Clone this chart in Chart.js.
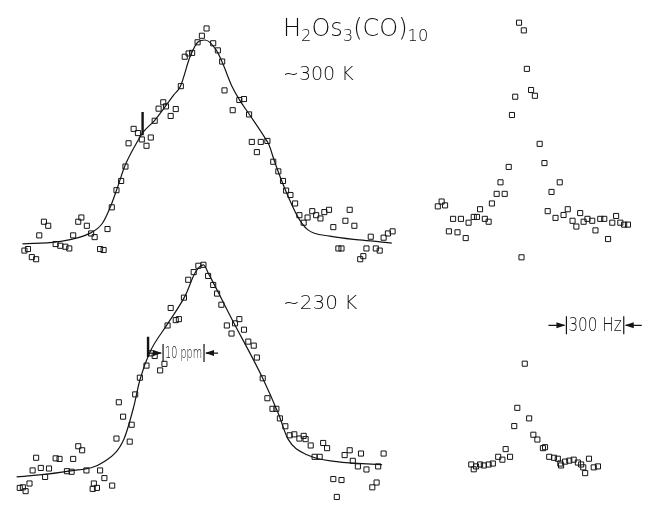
<!DOCTYPE html>
<html>
<head>
<meta charset="utf-8">
<script src="https://cdn.jsdelivr.net/npm/chart.js@4.4.1/dist/chart.umd.min.js"></script>
<style>
  body { margin: 0; background: #fff; width: 645px; height: 505px; position: relative; overflow: hidden; }
  canvas { position: absolute; }
  .lbl { position: absolute; font-family: 'DejaVu Sans', sans-serif; font-weight: 200; color: #111; white-space: nowrap; line-height: 1; }
  .lbl sub { font-size: 0.68em; vertical-align: -0.3em; }
</style>
</head>
<body>
<canvas id="c300" width="400" height="260" style="left:5px;top:10px"></canvas>
<canvas id="c230" width="400" height="250" style="left:5px;top:255px"></canvas>
<canvas id="h300" width="225" height="260" style="left:420px;top:10px"></canvas>
<canvas id="h230" width="225" height="250" style="left:420px;top:255px"></canvas>

<div class="lbl" style="left:283px;top:16px;font-size:24px">H<sub>2</sub>Os<sub>3</sub>(CO)<sub>10</sub></div>
<div class="lbl" style="left:283px;top:64px;font-size:19px">~300 K</div>
<div class="lbl" style="left:283px;top:292px;font-size:20px">~230 K</div>

<script>
// ~300 K, wide scan: shift offset (ppm) vs intensity (a.u.)
const ppm300 = [0.4, -0.8, -1.9, -3.3, -4.2, -5.2, -6.2, -10.7, -10, -11.9, -7.5, -8.8, -12.9, -18.3, -17.2, -16.2, -13.9, -19.6, -15,
  2.1, 3.3, 4.4, 5, 8.8, 10, 7.1, 11.3, 12, 14.3, 16, 13.3,
  -20.4, -21.5, -22.7, -23.9, -25, -31.7, -32.5, -30.3, -41.3, -40.2, -42.5, -33.8, -29.2, -28.3, -26.9, -26, -38.3, -37.1, -35.8, -34.8, -46.3, -45.4, -44.4, -43.3,
  17.5, 18.8, 20, 20.8, 21.9, 23.1, 24.2, 25.3, 26.3, 27.5, 28.5, 29.6, 30.6, 31.8, 37.1, 36, 38.3, 32.9, 42.5, 45.8, 46.9, 48.1, 34.2, 35, 41.4, 43.8, 44.8, 39.8, 40.6];
const int300 = [113, 109.2, 105.8, 100.3, 100, 98.3, 83, 74.6, 72.5, 71.3, 71.1, 67.5, 65, 60.8, 58.6, 55.3, 56.3, 53.3, 52,
  105.3, 101.6, 95.8, 80.8, 75.8, 76.3, 70.5, 68.3, 54, 54, 54.5, 48.7,
  41.2, 33.7, 28.9, 20, 8.7, 14.7, 12.5, 10.4, 12.5, 10.4, 5.4, 5.4, 6.4, 4.5, -1.7, -2.2, 0.9, 0, -0.5, -1.4, -2.5, -1.7, -5.9, -7,
  43.7, 38.7, 33.7, 28.7, 26.4, 22, 15.9, 12, 14.7, 18, 15.9, 14.2, 17.5, 18.7, 18.7, 13, 10.4, 9.7, 4.7, 4.2, 6.4, 7.5, -1.4, -1.4, -1.4, -1.4, -2.5, -7, -5.4];
const fitPpm300 = [-46.8, -38, -29.3, -26.3, -24.3, -22.5, -20.5, -17.1, -15.8, -13, -8, -6.3, -3.8, -1.8, 0, 2.9, 4.5, 7, 8.8, 11.3, 15.4, 16.4, 17.9, 20.4, 23.8, 26.3, 32, 40.4, 47.9];
const fitInt300 = [1, 2, 6.7, 11.7, 20, 30, 41.7, 55, 59.2, 65, 78.5, 83, 98.5, 106, 107, 101.7, 95, 82.5, 76, 68.5, 56, 52.5, 43.4, 30, 15, 8.4, 5, 2.9, 1.4];
const arrowPpm300 = [-16, -16];
const arrowInt300 = [69.5, 57.5];

// ~230 K, wide scan
const ppm230 = [-1.7, -0.4, -2.9, -4.3, -5.4, -8.8, -6.7, -7.5, -9.6, -13.8, -12.9, -10.4, -11.5, -15, -16.7,
  0.8, 2.1, 3.1, 4.2, 8.8, 7.7, 10, 5.6, 6.8, 11.1, 12.5, 13.3, 14.8,
  -17.9, -22.1, -21, -18.8, -19.3, -22.7, -32.5, -31.5, -43.3, -38.3, -37.3, -33.8, -44.2, -42.1, -40, -35.4, -34.2, -30.4, -26.9, -41, -45, -47.5, -46.7, -46, -25.8, -23.8, -28.5, -27.7, -28.8,
  16, 17.3, 18.3, 19.2, 20.6, 21.7, 22.9, 24.2, 25.3, 25.8, 27.1, 30.3, 31.3, 28.1, 29.4, 35.8, 37.1, 40, 45.8, 37.9, 39.2, 41.4, 44.4, 32.9, 35, 42.9, 44, 33.8];
const int230 = [112, 112.5, 108.7, 104.7, 95.4, 90, 84.2, 83.7, 80.9, 66.4, 65, 60.9, 57.5, 60, 53.7,
  106.7, 102, 97.5, 91.7, 84.2, 82, 78.7, 80.9, 76.7, 72.5, 70.4, 64.2, 53.4,
  45, 40.9, 33.4, 29.2, 20.4, 22, 18, 15.9, 12, 11.7, 11.4, 11.4, 5.4, 6.7, 6.4, 5, 4.7, 5.4, 5.4, 2, -1.4, -3.7, -3.4, -5.4, 1.4, -2.5, -1.4, -3.7, -4.2,
  43, 37.5, 37.5, 32.5, 28.4, 23.7, 24.2, 22, 23.4, 21.7, 18.4, 19.7, 17, 12.5, 12.5, 13.4, 15.9, 14.2, 14.2, 10.4, 7.5, 5.9, 7.5, 0.9, 0.4, -3.4, -0.9, -8.4];
const fitPpm230 = [-48.3, -35, -25.8, -20.8, -18.3, -16.7, -14.2, -9.6, -5, -2.5, -0.4, 1, 7.1, 14.8, 18.8, 21.3, 26.3, 33.8, 45.4];
const fitInt230 = [2, 5, 10, 21.7, 38.4, 52.5, 66.7, 81.7, 96.7, 108.5, 112.5, 107.5, 83.4, 53.4, 35, 21.7, 13.4, 10, 8.4];
const arrowPpm230 = [-14.6, -14.6];
const arrowInt230 = [75, 64.5];

// narrow scans: offset (Hz) vs intensity (a.u.)
const hz300 = [-33, -8, 8, -53, 30, 50, -70, 75, 100, -87, 180, -130, 137, -150, -108, -175, -458, -438, -420, -237, 117, 222, 200, 158, 287,
  -378, -337, -297, -270, -253, -212, -192, 247, 267, 305, 325, 350, 392, 413, 475, 455, 497, 517, 537, -400, -355, -312, 367, 433, -20];
const hzInt300 = [116, 112, 92, 77.5, 81, 78, 68, 53, 43, 41, 33, 33, 28, 27, 27, 22, 20.5, 23, 21, 19, 18, 19, 16, 14.5, 17,
  14, 14, 12, 15, 15, 14, 12.5, 13, 10, 12.5, 14, 13, 14, 14, 15.5, 12, 12, 11, 11, 7.5, 7, 4, 8, 3.5, -6];
const hz230 = [-3, -42, 20, -58, 42, 63, 92, 103, -103, -80, -142, -120, -283, -258, -237, -217, -192, -170, -270,
  125, 150, 170, 183, 208, 230, 253, 275, 292, 303, 187, 333, 358, 380, 313];
const hzInt230 = [61, 38, 32.5, 28.5, 24, 21.5, 17, 17.5, 16.5, 12.5, 12.5, 11, 8.5, 7.5, 8.5, 8, 8.5, 9, 6,
  12.5, 12, 11.5, 9, 10, 10.5, 11, 9.5, 8.5, 7, 8, 11.5, 7, 7.5, 4];

const INK = '#141414';

function zip(xs, ys) {
  return xs.map((x, i) => ({ x, y: ys[i] }));
}

function arrowHead(ctx, x, y, dir) {
  ctx.beginPath();
  ctx.moveTo(x, y);
  ctx.lineTo(x - dir * 9, y - 3);
  ctx.lineTo(x - dir * 9, y + 3);
  ctx.closePath();
  ctx.fill();
}

// "->| 10 ppm |<-" style scale marker, drawn in data units
const scaleBar = {
  id: 'scaleBar',
  afterDatasetsDraw(chart, args, opts) {
    if (!opts || opts.from == null) return;
    const { ctx, scales: { x, y } } = chart;
    const x1 = x.getPixelForValue(opts.from);
    const x2 = x.getPixelForValue(opts.to);
    const yy = y.getPixelForValue(opts.at);
    ctx.save();
    ctx.strokeStyle = INK;
    ctx.fillStyle = INK;
    ctx.lineWidth = 1.2;
    ctx.beginPath();
    ctx.moveTo(x1, yy - 9); ctx.lineTo(x1, yy + 9);
    ctx.moveTo(x2, yy - 9); ctx.lineTo(x2, yy + 9);
    ctx.moveTo(x1 - opts.tail, yy); ctx.lineTo(x1 - 2, yy);
    ctx.moveTo(x2 + opts.tail, yy); ctx.lineTo(x2 + 2, yy);
    ctx.stroke();
    arrowHead(ctx, x1 - 1, yy, 1);
    arrowHead(ctx, x2 + 1, yy, -1);
    ctx.font = '200 ' + opts.size + 'px "DejaVu Sans", sans-serif';
    ctx.textBaseline = 'middle';
    ctx.textAlign = 'left';
    // squeeze the text so it sits between the two bars
    const room = Math.abs(x2 - x1) - 4;
    const w = ctx.measureText(opts.text).width;
    const k = Math.min(1, room / w);
    ctx.translate((x1 + x2) / 2 - (w * k) / 2, yy + 1);
    ctx.scale(k, 1);
    ctx.fillText(opts.text, 0, 0);
    ctx.restore();
  }
};

function pointsSet(xs, ys) {
  return {
    data: zip(xs, ys),
    showLine: false,
    pointStyle: 'rect',
    pointRadius: 3.6,
    pointBorderWidth: 1,
    pointBorderColor: INK,
    pointBackgroundColor: 'rgba(255,255,255,0)'
  };
}

function fitSet(xs, ys) {
  return {
    data: zip(xs, ys),
    borderColor: INK,
    borderWidth: 1.2,
    pointRadius: 0,
    cubicInterpolationMode: 'monotone'
  };
}

function arrowSet(xs, ys) {
  return {
    data: zip(xs, ys),
    borderColor: INK,
    borderWidth: 2.4,
    pointRadius: 0
  };
}

function makePanel(id, xRange, yRange, datasets, bar) {
  const ctx = document.getElementById(id);
  return new Chart(ctx, {
    type: 'line',
    data: { datasets },
    plugins: [scaleBar],
    options: {
      responsive: false,
      animation: false,
      layout: { padding: 0 },
      plugins: {
        legend: { display: false },
        tooltip: { enabled: false },
        scaleBar: bar || {}
      },
      scales: {
        x: { type: 'linear', min: xRange[0], max: xRange[1], display: false },
        y: { type: 'linear', min: yRange[0], max: yRange[1], display: false }
      }
    }
  });
}

makePanel('c300', [-50, 50], [-10, 120], [
  fitSet(fitPpm300, fitInt300),
  pointsSet(ppm300, int300),
  arrowSet(arrowPpm300, arrowInt300)
]);

makePanel('c230', [-50, 50], [-10, 115], [
  fitSet(fitPpm230, fitInt230),
  pointsSet(ppm230, int230),
  arrowSet(arrowPpm230, arrowInt230)
], { from: -10.75, to: -0.25, at: 66.5, text: '10 ppm', size: 15, tail: 14 });

makePanel('h300', [-525, 600], [-10, 120], [
  pointsSet(hz300, hzInt300)
]);

makePanel('h230', [-525, 600], [-10, 115], [
  pointsSet(hz230, hzInt230)
], { from: 215, to: 515, at: 81, text: '300 Hz', size: 19, tail: 18 });
</script>
</body>
</html>
